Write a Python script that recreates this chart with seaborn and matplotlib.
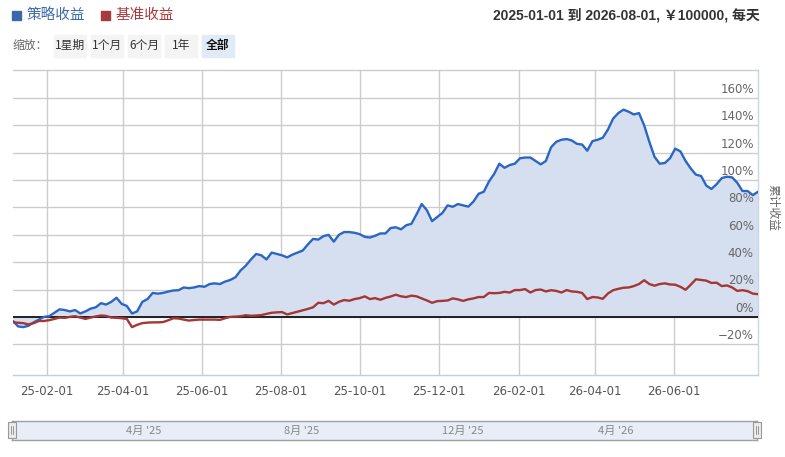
import numpy as np
import pandas as pd
import matplotlib
matplotlib.use("Agg")
import matplotlib.pyplot as plt
import matplotlib.dates as mdates
from matplotlib.patches import Rectangle
import seaborn as sns

# ---- data (cumulative returns, %) sampled every 4 days ----
start_date = "2025-01-06"
step_days = 4
strategy = [
    -3, -7, -7.5, -6.5, -4, -2, 0, 0.5, 3, 5.5,
    5, 4, 5, 2.5, 4, 6, 7, 10, 9, 11,
    14, 9.5, 8, 2.5, 4, 11, 13, 17.5, 17, 17.5,
    18.5, 19.3, 19.5, 21.5, 21, 21.5, 22.5, 22, 24, 24.5,
    24, 25.8, 27, 29, 34, 37.5, 42, 46, 45, 42,
    47, 46, 45, 43.5, 45.5, 47, 48.5, 53, 57, 56.5,
    59, 60, 55, 60, 62, 62, 61.5, 60.5, 58.5, 58,
    59.3, 61, 61, 65, 65.5, 64, 67, 68, 75, 82.5,
    78, 70, 73, 76, 81.5, 80.5, 82.5, 81.5, 80.6, 84.3,
    90, 91.5, 99, 104.5, 112, 109, 111, 112, 116, 116.5,
    116.5, 114, 111.5, 114, 124, 128, 129.5, 130, 129, 126.5,
    126, 121.5, 128.5, 129.5, 131, 137, 145, 149, 151.5, 150,
    148, 149, 140, 128, 117, 112, 112.5, 116, 123, 121,
    114, 108.5, 104, 103, 96, 93.5, 97, 101.5, 102.5, 102,
    98, 92, 92, 89, 91.5,
]
benchmark = [
    -4, -4.3, -4.6, -5.5, -4.6, -3, -3, -2.4, -1.5, -0.5,
    -0.7, 0, 0.5, -0.5, -1.5, -0.5, 0.3, 1, 0.7, -0.5,
    -0.7, -1, -1.5, -7.5, -5.8, -4.6, -4.2, -4, -4, -3.8,
    -2.5, -1, -1.2, -2, -2.7, -2.3, -2, -2, -2, -2,
    -2.2, -1, 0, 0.2, 0.5, 1.2, 0.8, 1, 1.3, 2.2,
    3, 3.3, 3.5, 1.8, 2.8, 3.8, 4.8, 5.8, 7, 10.3,
    10, 11.7, 9, 11, 12.3, 11.8, 13, 13.7, 15, 13,
    13.7, 12.5, 13.9, 14.9, 16.2, 15, 14.5, 15.5, 15, 13.5,
    12, 10.3, 11.5, 11.7, 12, 13.5, 12.8, 11.7, 12.8, 13.5,
    14.5, 14.5, 17.5, 17.3, 17.5, 18.3, 17.8, 19.6, 19.6, 20.3,
    17.8, 19.6, 20, 18.6, 19.5, 19, 17.8, 19.6, 18.6, 18.3,
    17.5, 13, 14.5, 14.2, 13.2, 17.1, 19.5, 20.5, 21.3, 21.5,
    22.5, 24, 26.8, 24, 22.8, 24, 24.5, 23.7, 23.5, 22,
    19.8, 23.5, 27.5, 27, 26.5, 24.8, 25, 22.5, 23, 21.5,
    19, 19.5, 18.8, 17, 16.6,
]
y_ticks = [-20, 0, 20, 40, 60, 80, 100, 120, 140, 160]
x_tick_dates = ["2025-02-01", "2025-04-01", "2025-06-01", "2025-08-01", "2025-10-01",
                "2025-12-01", "2026-02-01", "2026-04-01", "2026-06-01"]
nav_dates = ["2025-04-01", "2025-08-01", "2025-12-01", "2026-04-01"]
nav_labels = ["4月 '25", "8月 '25", "12月 '25", "4月 '26"]
zoom_buttons = ["1星期", "1个月", "6个月", "1年", "全部"]
legend_names = ["策略收益", "基准收益"]
title_right = "2025-01-01 到 2026-08-01, ￥100000, 每天"

dates = pd.date_range(start_date, periods=len(strategy), freq=f"{step_days}D")
df = pd.DataFrame({"date": dates, "策略收益": strategy, "基准收益": benchmark})

# ---- styling ----
sns.set_style("white")
plt.rcParams["font.family"] = ["DejaVu Sans", "Noto Sans CJK SC"]
CJK = ["Noto Sans CJK SC", "DejaVu Sans"]
LAT_CJK = ["Liberation Sans", "Noto Sans CJK SC"]

blue = "#2b66c4"
red = "#a53636"
fill_c = "#d5dff0"
grid_c = "#cccccc"

W, H = 785, 457
fig = plt.figure(figsize=(W / 100, H / 100), dpi=100)

def fx(px):
    return px / W

def fy(py):
    return 1 - py / H

L, R, T, B = 13, 758, 70, 375
ax = fig.add_axes([fx(L), fy(B), fx(R) - fx(L), fy(T) - fy(B)])

ax.fill_between(df["date"], df["策略收益"], 0, color=fill_c, lw=0, zorder=1)
sns.lineplot(data=df, x="date", y="策略收益", color=blue, lw=1.7, ax=ax, zorder=4)
sns.lineplot(data=df, x="date", y="基准收益", color=red, lw=1.7, ax=ax, zorder=4)
ax.axhline(0, color="#111111", lw=1.3, zorder=3)

ax.set_xlim(dates[0], dates[-1])
ax.set_ylim(-42.5, 180.5)
ax.set_xlabel("")
ax.set_ylabel("")

# horizontal grid
for v in y_ticks:
    ax.axhline(v, color=grid_c, lw=1, zorder=0.5)
# vertical grid
xt = pd.to_datetime(x_tick_dates)
for d in xt:
    ax.axvline(d, color=grid_c, lw=1, zorder=0.5)
ax.set_xticks(xt)
ax.set_xticklabels([d.strftime("%y-%m-%d") for d in xt], color="#555555", fontsize=8.5)
ax.tick_params(axis="x", length=6, color="#c0d0e0", pad=1.5)
ax.set_yticks([])

ax.spines["left"].set_visible(False)
ax.spines["top"].set_color(grid_c)
ax.spines["right"].set_color("#c8d6e8")
ax.spines["bottom"].set_color("#c0d0e0")
for s in ["top", "right", "bottom"]:
    ax.spines[s].set_linewidth(1)

# y labels inside, right-aligned, just above grid lines
for v in y_ticks:
    ax.annotate(f"{v}%".replace("-", "\u2212"), xy=(1, v), xycoords=("axes fraction", "data"),
                xytext=(-3, 1.5), textcoords="offset points", ha="right", va="bottom",
                fontsize=8.5, color="#666666", zorder=5)

fig.text(fx(773), fy(208), "累计收益", rotation=270, ha="center", va="center",
         fontsize=8.5, color="#666666", family=CJK)

# ---- legend (top-left) ----
fig.patches.append(Rectangle((fx(12), fy(20)), fx(9), fy(11) - fy(20), transform=fig.transFigure,
                             color="#3a68a8", figure=fig))
fig.text(fx(27), fy(15), legend_names[0], ha="left", va="center", fontsize=10.5,
         color="#3d6aa8", family=CJK)
fig.patches.append(Rectangle((fx(101), fy(20)), fx(9), fy(11) - fy(20), transform=fig.transFigure,
                             color="#a83a3a", figure=fig))
fig.text(fx(116), fy(15), legend_names[1], ha="left", va="center", fontsize=10.5,
         color="#a83a3a", family=CJK)

# ---- right title ----
fig.text(fx(760), fy(15), title_right, ha="right", va="center", fontsize=10,
         fontweight="bold", color="#333333", family=LAT_CJK)

# ---- zoom buttons ----
fig.text(fx(13), fy(45), "缩放：", ha="left", va="center", fontsize=8.5, color="#666666", family=CJK)
btn_x = [54, 91, 128, 165, 202]
for i, (lab, bx) in enumerate(zip(zoom_buttons, btn_x)):
    active = i == len(zoom_buttons) - 1
    fig.patches.append(Rectangle((fx(bx), fy(57)), fx(32), fy(35) - fy(57), transform=fig.transFigure,
                                 color="#e1ebf7" if active else "#f4f4f4", figure=fig))
    fig.text(fx(bx + 16), fy(45.5), lab, ha="center", va="center", fontsize=8.5,
             color="#111111" if active else "#333333",
             fontweight="bold" if active else "normal", family=CJK)

# ---- navigator ----
nav = fig.add_axes([fx(12), fy(440), fx(757) - fx(12), fy(421) - fy(440)])
nav.set_xlim(dates[0], dates[-1])
nav.set_ylim(0, 1)
nav.set_facecolor("#e8eef8")
for s in nav.spines.values():
    s.set_color("#a0a0a0")
    s.set_linewidth(1)
nav.set_xticks([])
nav.set_yticks([])
for d, lab in zip(pd.to_datetime(nav_dates), nav_labels):
    nav.annotate(lab, xy=(d, 0.5), xycoords=("data", "axes fraction"), xytext=(3, 0),
                 textcoords="offset points", ha="left", va="center", fontsize=8,
                 color="#888888", family=CJK)
for hx in [8, 753]:
    fig.patches.append(Rectangle((fx(hx), fy(438)), fx(8), fy(422) - fy(438), transform=fig.transFigure,
                                 facecolor="#ebebeb", edgecolor="#999999", lw=0.8, figure=fig))
    for dx in [3.3, 4.7]:
        fig.lines.append(plt.Line2D([fx(hx + dx), fx(hx + dx)], [fy(434), fy(426)],
                                    transform=fig.transFigure, color="#888888", lw=0.6))

fig.savefig("out.png", dpi=100)
